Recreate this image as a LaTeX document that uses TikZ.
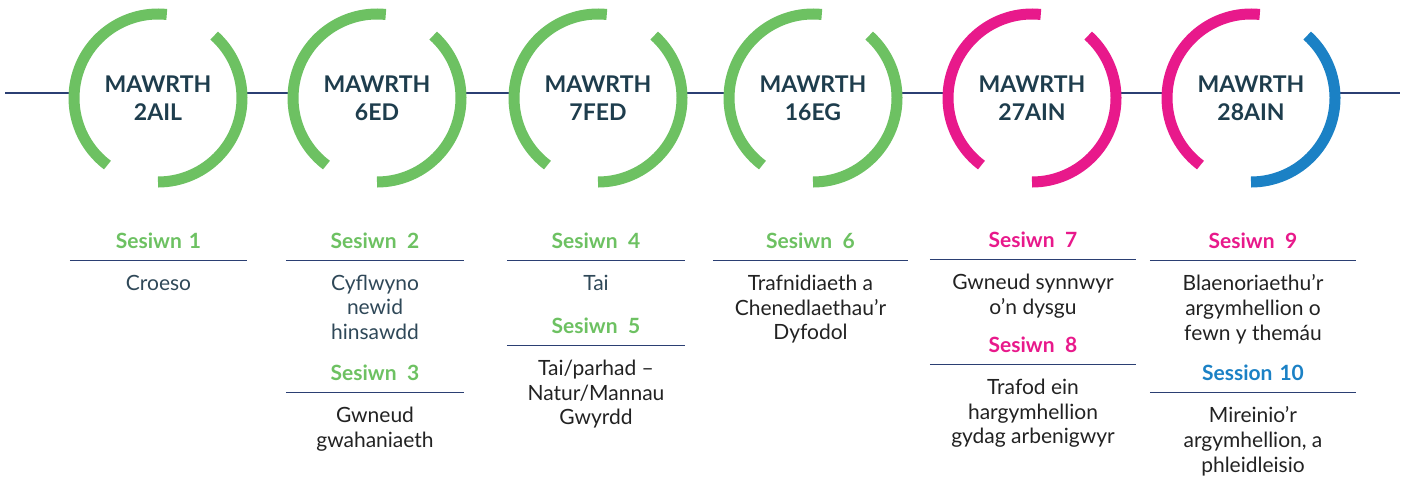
\documentclass[tikz,border=0pt]{standalone}
\usepackage{fontspec}
\setmainfont{Lato}
\usetikzlibrary{positioning}

\definecolor{mgreen}{HTML}{6DC162}
\definecolor{mpink}{HTML}{E8198B}
\definecolor{mblue}{HTML}{1B81C5}
\definecolor{mnavy}{HTML}{2B3F73}
\definecolor{mslate}{HTML}{1E3D4D}
\definecolor{mbody}{HTML}{2F4858}
\definecolor{mblack}{HTML}{222222}

\begin{document}
\begin{tikzpicture}[x=1pt,y=1pt,node distance=14pt]
  \tikzstyle{date}=[circle,minimum size=168pt,inner sep=0pt,outer sep=0pt,fill=white,align=center,text=mslate,font=\fontsize{23}{28}\selectfont\bfseries]
  \tikzstyle{ring}=[line width=11pt]
  \tikzstyle{sesh}=[align=center,inner sep=0pt,text height=15pt,text depth=12.5pt,anchor=base,font=\fontsize{21}{24}\selectfont\bfseries]
  \tikzstyle{body}=[align=center,inner sep=0pt,text=mblack,font=\fontsize{21}{24.7}\selectfont]
  \tikzstyle{rule}=[draw=mnavy,line width=1.5pt]

  \useasboundingbox (0,0) rectangle (1405,-477);

  %--- Timeline ---
  \coordinate (lstart) at (5,-93);
  \coordinate (lend) at (1400,-93);
  \draw[mnavy,line width=1.5pt] (lstart) -- (lend);

  %--- Dates ---
  \node[date] (d1) at (158,-98)  {MAWRTH\\2AIL};
  \node[date] (d2) at (377,-98)  {MAWRTH\\6ED};
  \node[date] (d3) at (598,-98)  {MAWRTH\\7FED};
  \node[date] (d4) at (813,-98)  {MAWRTH\\16EG};
  \node[date] (d5) at (1032,-98) {MAWRTH\\27AIN};
  \node[date] (d6) at (1251,-98) {MAWRTH\\28AIN};

  %--- Rings (left part, right part) ---
  \draw[ring,mgreen] (d1.84) arc[start angle=84,end angle=233,radius=84pt];
  \draw[ring,mgreen] (d1.48) arc[start angle=48,end angle=-90,radius=84pt];
  \draw[ring,mgreen] (d2.84) arc[start angle=84,end angle=233,radius=84pt];
  \draw[ring,mgreen] (d2.48) arc[start angle=48,end angle=-90,radius=84pt];
  \draw[ring,mgreen] (d3.84) arc[start angle=84,end angle=233,radius=84pt];
  \draw[ring,mgreen] (d3.48) arc[start angle=48,end angle=-90,radius=84pt];
  \draw[ring,mgreen] (d4.84) arc[start angle=84,end angle=233,radius=84pt];
  \draw[ring,mgreen] (d4.48) arc[start angle=48,end angle=-90,radius=84pt];
  \draw[ring,mpink]  (d5.84) arc[start angle=84,end angle=233,radius=84pt];
  \draw[ring,mpink]  (d5.48) arc[start angle=48,end angle=-90,radius=84pt];
  \draw[ring,mpink]  (d6.84) arc[start angle=84,end angle=233,radius=84pt];
  \draw[ring,mblue]  (d6.48) arc[start angle=48,end angle=-90,radius=84pt];

  %--- Sessions ---
  \node[sesh,text width=177pt,text=mgreen] (s1) at (158.5,-248) {Sesiwn 1};
  \node[body,text=mbody,below=of s1] (b1) {Croeso};

  \node[sesh,text width=178pt,text=mgreen] (s2) at (375,-248) {Sesiwn\enspace2};
  \node[body,text=mbody,below=of s2] (b2) {Cyflwyno\\newid\\hinsawdd};
  \node[sesh,text width=178pt,text=mgreen] (s3) at (375,-380) {Sesiwn\enspace3};
  \node[body,below=of s3] (b3) {Gwneud\\gwahaniaeth};

  \node[sesh,text width=178pt,text=mgreen] (s4) at (596,-248) {Sesiwn\enspace4};
  \node[body,text=mbody,below=of s4] (b4) {Tai};
  \node[sesh,text width=178pt,text=mgreen] (s5) at (596,-333) {Sesiwn\enspace5};
  \node[body,below=of s5] (b5) {Tai/parhad --\\Natur/Mannau\\Gwyrdd};

  \node[sesh,text width=195pt,text=mgreen] (s6) at (810.5,-248) {Sesiwn\enspace6};
  \node[body,below=of s6] (b6) {Trafnidiaeth a\\Chenedlaethau'r\\Dyfodol};

  \node[sesh,text width=206pt,text=mpink] (s7) at (1033,-247) {Sesiwn\enspace7};
  \node[body,below=of s7] (b7) {Gwneud synnwyr\\o'n dysgu};
  \node[sesh,text width=206pt,text=mpink] (s8) at (1033,-352) {Sesiwn\enspace8};
  \node[body,below=of s8] (b8) {Trafod ein\\hargymhellion\\gydag arbenigwyr};

  \node[sesh,text width=206pt,text=mpink] (s9) at (1253,-248) {Sesiwn\enspace9};
  \node[body,below=of s9] (b9) {Blaenoriaethu'r\\argymhellion o\\fewn y themáu};
  \node[sesh,text width=206pt,text=mblue] (s10) at (1253,-380) {Session 10};
  \node[body,below=of s10] (b10) {Mireinio'r\\argymhellion, a\\phleidleisio};

  %--- Rules under headings ---
  \draw[rule] (s1.south west) -- (s1.south east);
  \draw[rule] (s2.south west) -- (s2.south east);
  \draw[rule] (s3.south west) -- (s3.south east);
  \draw[rule] (s4.south west) -- (s4.south east);
  \draw[rule] (s5.south west) -- (s5.south east);
  \draw[rule] (s6.south west) -- (s6.south east);
  \draw[rule] (s7.south west) -- (s7.south east);
  \draw[rule] (s8.south west) -- (s8.south east);
  \draw[rule] (s9.south west) -- (s9.south east);
  \draw[rule] (s10.south west) -- (s10.south east);
\end{tikzpicture}
\end{document}
